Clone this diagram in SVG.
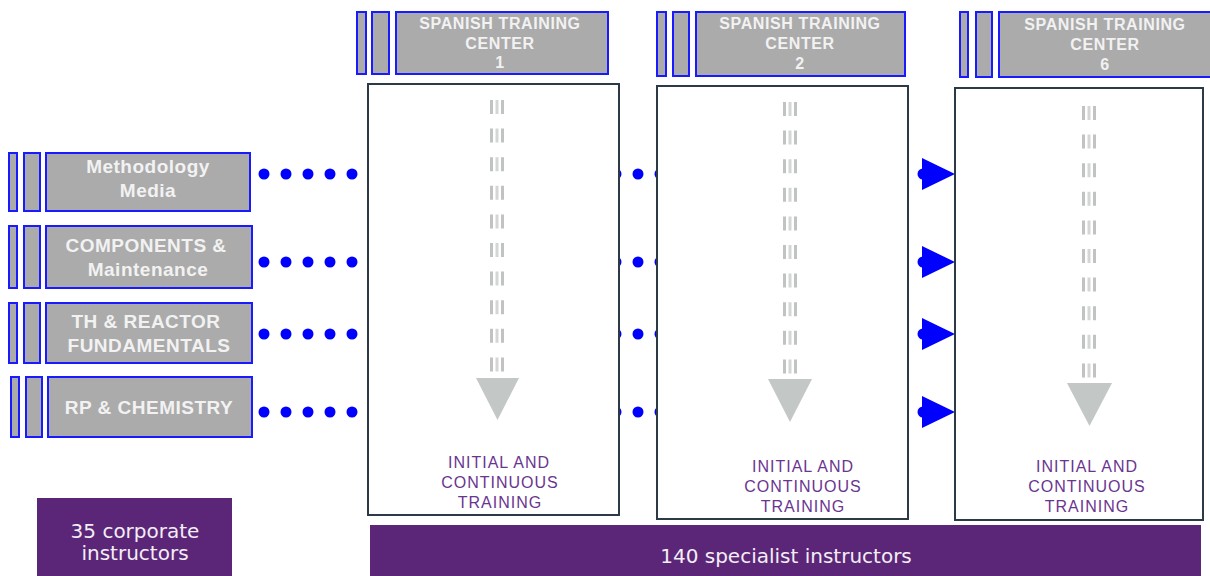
<svg xmlns="http://www.w3.org/2000/svg" width="1210" height="576" viewBox="0 0 1210 576">
<defs>
<style>
.g{fill:#ababab;stroke:#1a1aff;stroke-width:2}
.box{fill:#fff;stroke:#2b3a46;stroke-width:2}
.ht{font-family:"Liberation Sans",Arial,sans-serif;font-weight:bold;font-size:16px;fill:#f2f2f2;text-anchor:middle;letter-spacing:0.6px}
.it{font-family:"Liberation Sans",Arial,sans-serif;font-weight:bold;font-size:19px;fill:#f2f2f2;text-anchor:middle;letter-spacing:0.5px}
.bt{font-family:"Liberation Sans",Arial,sans-serif;font-size:16px;fill:#6a3590;text-anchor:middle;letter-spacing:1px}
.pt{font-family:"DejaVu Sans",Verdana,sans-serif;font-size:20px;fill:#f3eef6;text-anchor:middle}
.dl{stroke:#0000ff;stroke-width:11;stroke-linecap:round;stroke-dasharray:0 22;fill:none}
.dash{stroke:#bfc3c1;stroke-width:3;stroke-dasharray:14 14.6;fill:none}
.dashm{stroke:#d3d6d5;stroke-width:3;stroke-dasharray:14 14.6;fill:none}
.tri{fill:#c3c7c5}
.purple{fill:#5c2678}
.ah{fill:#0000ff}
</style>
</defs>

<g id="connectors">
<line class="dl" x1="264" y1="174" x2="924" y2="174"/>
<line class="dl" x1="264" y1="262" x2="924" y2="262"/>
<line class="dl" x1="264" y1="334" x2="924" y2="334"/>
<line class="dl" x1="264" y1="412" x2="924" y2="412"/>
<circle class="ah" cx="923" cy="174" r="5.5"/>
<circle class="ah" cx="923" cy="262" r="5.5"/>
<circle class="ah" cx="923" cy="334" r="5.5"/>
<circle class="ah" cx="923" cy="412" r="5.5"/>
<path class="ah" d="M922,158 L955,174 L922,190 Z"/>
<path class="ah" d="M922,246 L955,262 L922,278 Z"/>
<path class="ah" d="M922,318 L955,334 L922,350 Z"/>
<path class="ah" d="M922,396 L955,412 L922,428 Z"/>
</g>

<g id="center1">
<rect class="g" x="357" y="12" width="9" height="62"/>
<rect class="g" x="372" y="12" width="17" height="62"/>
<rect class="g" x="396" y="12" width="212" height="62"/>
<text class="ht" x="500" y="29">SPANISH TRAINING</text>
<text class="ht" x="500" y="49">CENTER</text>
<text class="ht" x="500" y="68">1</text>
<rect class="box" x="368" y="84" width="251" height="431"/>
<line class="dash" x1="491.5" y1="100" x2="491.5" y2="380"/>
<line class="dashm" x1="497" y1="100" x2="497" y2="380"/>
<line class="dash" x1="502.5" y1="100" x2="502.5" y2="380"/>
<path class="tri" d="M476,378 L519,378 L497.5,420 Z"/>
<text class="bt" x="499" y="468">INITIAL AND</text>
<text class="bt" x="500" y="488">CONTINUOUS</text>
<text class="bt" x="500" y="508">TRAINING</text>
</g>

<g id="center2">
<rect class="g" x="657" y="12" width="9" height="64"/>
<rect class="g" x="673" y="12" width="16" height="64"/>
<rect class="g" x="696" y="12" width="209" height="64"/>
<text class="ht" x="800" y="29">SPANISH TRAINING</text>
<text class="ht" x="800" y="49">CENTER</text>
<text class="ht" x="800" y="69">2</text>
<rect class="box" x="657" y="86" width="251" height="433"/>
<line class="dash" x1="784.5" y1="102" x2="784.5" y2="382"/>
<line class="dashm" x1="790" y1="102" x2="790" y2="382"/>
<line class="dash" x1="795.5" y1="102" x2="795.5" y2="382"/>
<path class="tri" d="M768,379 L812,379 L790,422 Z"/>
<text class="bt" x="803" y="472">INITIAL AND</text>
<text class="bt" x="803" y="492">CONTINUOUS</text>
<text class="bt" x="803" y="512">TRAINING</text>
</g>

<g id="center6">
<rect class="g" x="960" y="12" width="8" height="65"/>
<rect class="g" x="976" y="12" width="16" height="65"/>
<rect class="g" x="999" y="12" width="213" height="65"/>
<text class="ht" x="1105" y="30">SPANISH TRAINING</text>
<text class="ht" x="1105" y="50">CENTER</text>
<text class="ht" x="1105" y="70">6</text>
<rect class="box" x="955" y="88" width="248" height="432"/>
<line class="dash" x1="1083.5" y1="106" x2="1083.5" y2="386"/>
<line class="dashm" x1="1089" y1="106" x2="1089" y2="386"/>
<line class="dash" x1="1094.5" y1="106" x2="1094.5" y2="386"/>
<path class="tri" d="M1067,383 L1112,383 L1089.5,426 Z"/>
<text class="bt" x="1087" y="472">INITIAL AND</text>
<text class="bt" x="1087" y="492">CONTINUOUS</text>
<text class="bt" x="1087" y="512">TRAINING</text>
</g>

<g id="methodology">
<rect class="g" x="9" y="153" width="8" height="58"/>
<rect class="g" x="24" y="153" width="16" height="58"/>
<rect class="g" x="46" y="153" width="204" height="58"/>
<text class="it" x="148" y="173">Methodology</text>
<text class="it" x="148" y="197">Media</text>
</g>

<g id="components">
<rect class="g" x="9" y="226" width="8" height="62"/>
<rect class="g" x="24" y="226" width="16" height="62"/>
<rect class="g" x="46" y="226" width="206" height="62"/>
<text class="it" x="146" y="252">COMPONENTS &amp;</text>
<text class="it" x="148" y="276">Maintenance</text>
</g>

<g id="th-reactor">
<rect class="g" x="9" y="303" width="8" height="60"/>
<rect class="g" x="24" y="303" width="16" height="60"/>
<rect class="g" x="46" y="303" width="206" height="60"/>
<text class="it" x="146" y="328">TH &amp; REACTOR</text>
<text class="it" x="149" y="352">FUNDAMENTALS</text>
</g>

<g id="rp-chemistry">
<rect class="g" x="11" y="377" width="8" height="60"/>
<rect class="g" x="26" y="377" width="16" height="60"/>
<rect class="g" x="48" y="377" width="204" height="60"/>
<text class="it" x="149" y="414">RP &amp; CHEMISTRY</text>
</g>

<g id="corporate">
<rect class="purple" x="37" y="498" width="195" height="78"/>
<text class="pt" x="135" y="538">35 corporate</text>
<text class="pt" x="135" y="560">instructors</text>
</g>

<g id="specialist">
<rect class="purple" x="370" y="525" width="831" height="51"/>
<text class="pt" x="786" y="563">140 specialist instructors</text>
</g>
</svg>
